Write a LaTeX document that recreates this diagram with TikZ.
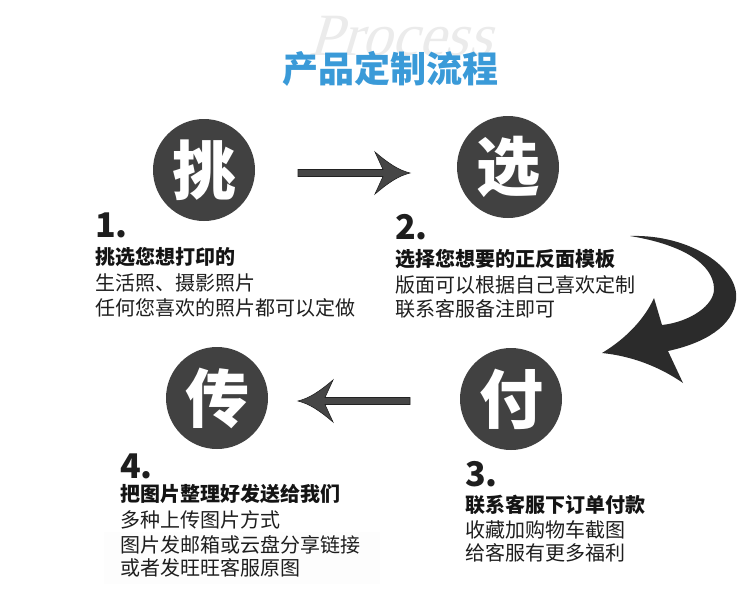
\documentclass[tikz,border=0pt]{standalone}
\usepackage{fontspec}
\newfontfamily\cjk{Noto Sans CJK SC}
\newfontfamily\wmfont[FakeSlant=0.3]{Liberation Serif}
\definecolor{titleblue}{HTML}{3A9AD8}
\definecolor{disc}{HTML}{414141}
\definecolor{arrowfill}{HTML}{464646}
\definecolor{arrowline}{HTML}{222222}
\definecolor{curvefill}{HTML}{2B2B2B}
\definecolor{txt}{HTML}{1E1E1E}
\tikzset{
  stepdisc/.style={circle,fill=disc,minimum size=102pt,inner sep=0pt,text=white,font=\cjk\fontsize{64}{64}\selectfont\bfseries},
  stepnum/.style={anchor=west,inner sep=0pt,text=txt,font=\cjk\fontsize{34}{34}\selectfont\bfseries},
  boldline/.style={anchor=west,inner sep=0pt,text=black!92,font=\cjk\fontsize{20}{20}\selectfont\bfseries},
  plainline/.style={anchor=west,inner sep=0pt,text=txt,font=\cjk\fontsize{20}{20}\selectfont},
  flatarrow/.style={fill=arrowfill,draw=arrowline,line width=0.6pt,line join=miter},
}
\newcommand{\flatarrowpath}{%
  (-112,-3.5) -- (-27,-3.5) -- (-35,-21) .. controls (-22,-10) and (-12,-3) .. (0,0)
  .. controls (-12,3) and (-22,10) .. (-35,21) -- (-27,3.5) -- (-112,3.5) -- cycle}
\begin{document}
\begin{tikzpicture}[x=1pt,y=-1pt]
\useasboundingbox (0,0) rectangle (750,614);
\fill[white] (0,0) rectangle (750,614);
% watermark and title
\node[inner sep=0pt,text=black!8,font=\wmfont\fontsize{60}{60}\selectfont] (wm) at (400,36) {Process};
\node[inner sep=0pt,text=titleblue,font=\cjk\fontsize{36}{36}\selectfont\bfseries] (title) at (390,69) {产品定制流程};
% discs
\node[stepdisc] (s1) at (204,170) {挑};
\node[stepdisc] (s2) at (508,167) {选};
\node[stepdisc] (s3) at (511,399) {付};
\node[stepdisc] (s4) at (217,398) {传};
% straight arrows between discs
\coordinate (a1tip) at (410,173);
\coordinate (a2tip) at (298,401);
\draw[flatarrow,shift={(a1tip)}] \flatarrowpath;
\draw[flatarrow,shift={(a2tip)},rotate=180] \flatarrowpath;
% curved arrow from step 2 down to step 3
\coordinate (ctail) at (630,236);
\coordinate (ctip) at (602,353);
\fill[curvefill] (ctail) .. controls (690,234) and (740,268) .. (736,300)
  .. controls (733,326) and (705,343) .. (668,351)
  -- (683,383)
  .. controls (660,367) and (632,356) .. (ctip)
  .. controls (627,338) and (645,318) .. (654,298)
  -- (662,325)
  .. controls (690,322) and (715,305) .. (714,288)
  .. controls (713,265) and (685,245) .. (ctail) -- cycle;
% faint panel behind step 4 text
\fill[black!0.6] (104,532) rectangle (380,584);
% step 1
\node[stepnum] (n1) at (95,225) {1.};
\node[boldline] (t1a) at (95,257) {挑选您想打印的};
\node[plainline] (t1b) at (95,283) {生活照、摄影照片};
\node[plainline] (t1c) at (95,308) {任何您喜欢的照片都可以定做};
% step 2
\node[stepnum] (n2) at (395,227) {2.};
\node[boldline] (t2a) at (395,259) {选择您想要的正反面模板};
\node[plainline] (t2b) at (395,285) {版面可以根据自己喜欢定制};
\node[plainline] (t2c) at (395,309) {联系客服备注即可};
% step 3
\node[stepnum] (n3) at (465,474) {3.};
\node[boldline] (t3a) at (465,505) {联系客服下订单付款};
\node[plainline] (t3b) at (465,530) {收藏加购物车截图};
\node[plainline] (t3c) at (465,553) {给客服有更多福利};
% step 4
\node[stepnum] (n4) at (120,466) {4.};
\node[boldline] (t4a) at (120,494) {把图片整理好发送给我们};
\node[plainline] (t4b) at (120,520) {多种上传图片方式};
\node[plainline] (t4c) at (120,545) {图片发邮箱或云盘分享链接};
\node[plainline] (t4d) at (120,568) {或者发旺旺客服原图};
\end{tikzpicture}
\end{document}
